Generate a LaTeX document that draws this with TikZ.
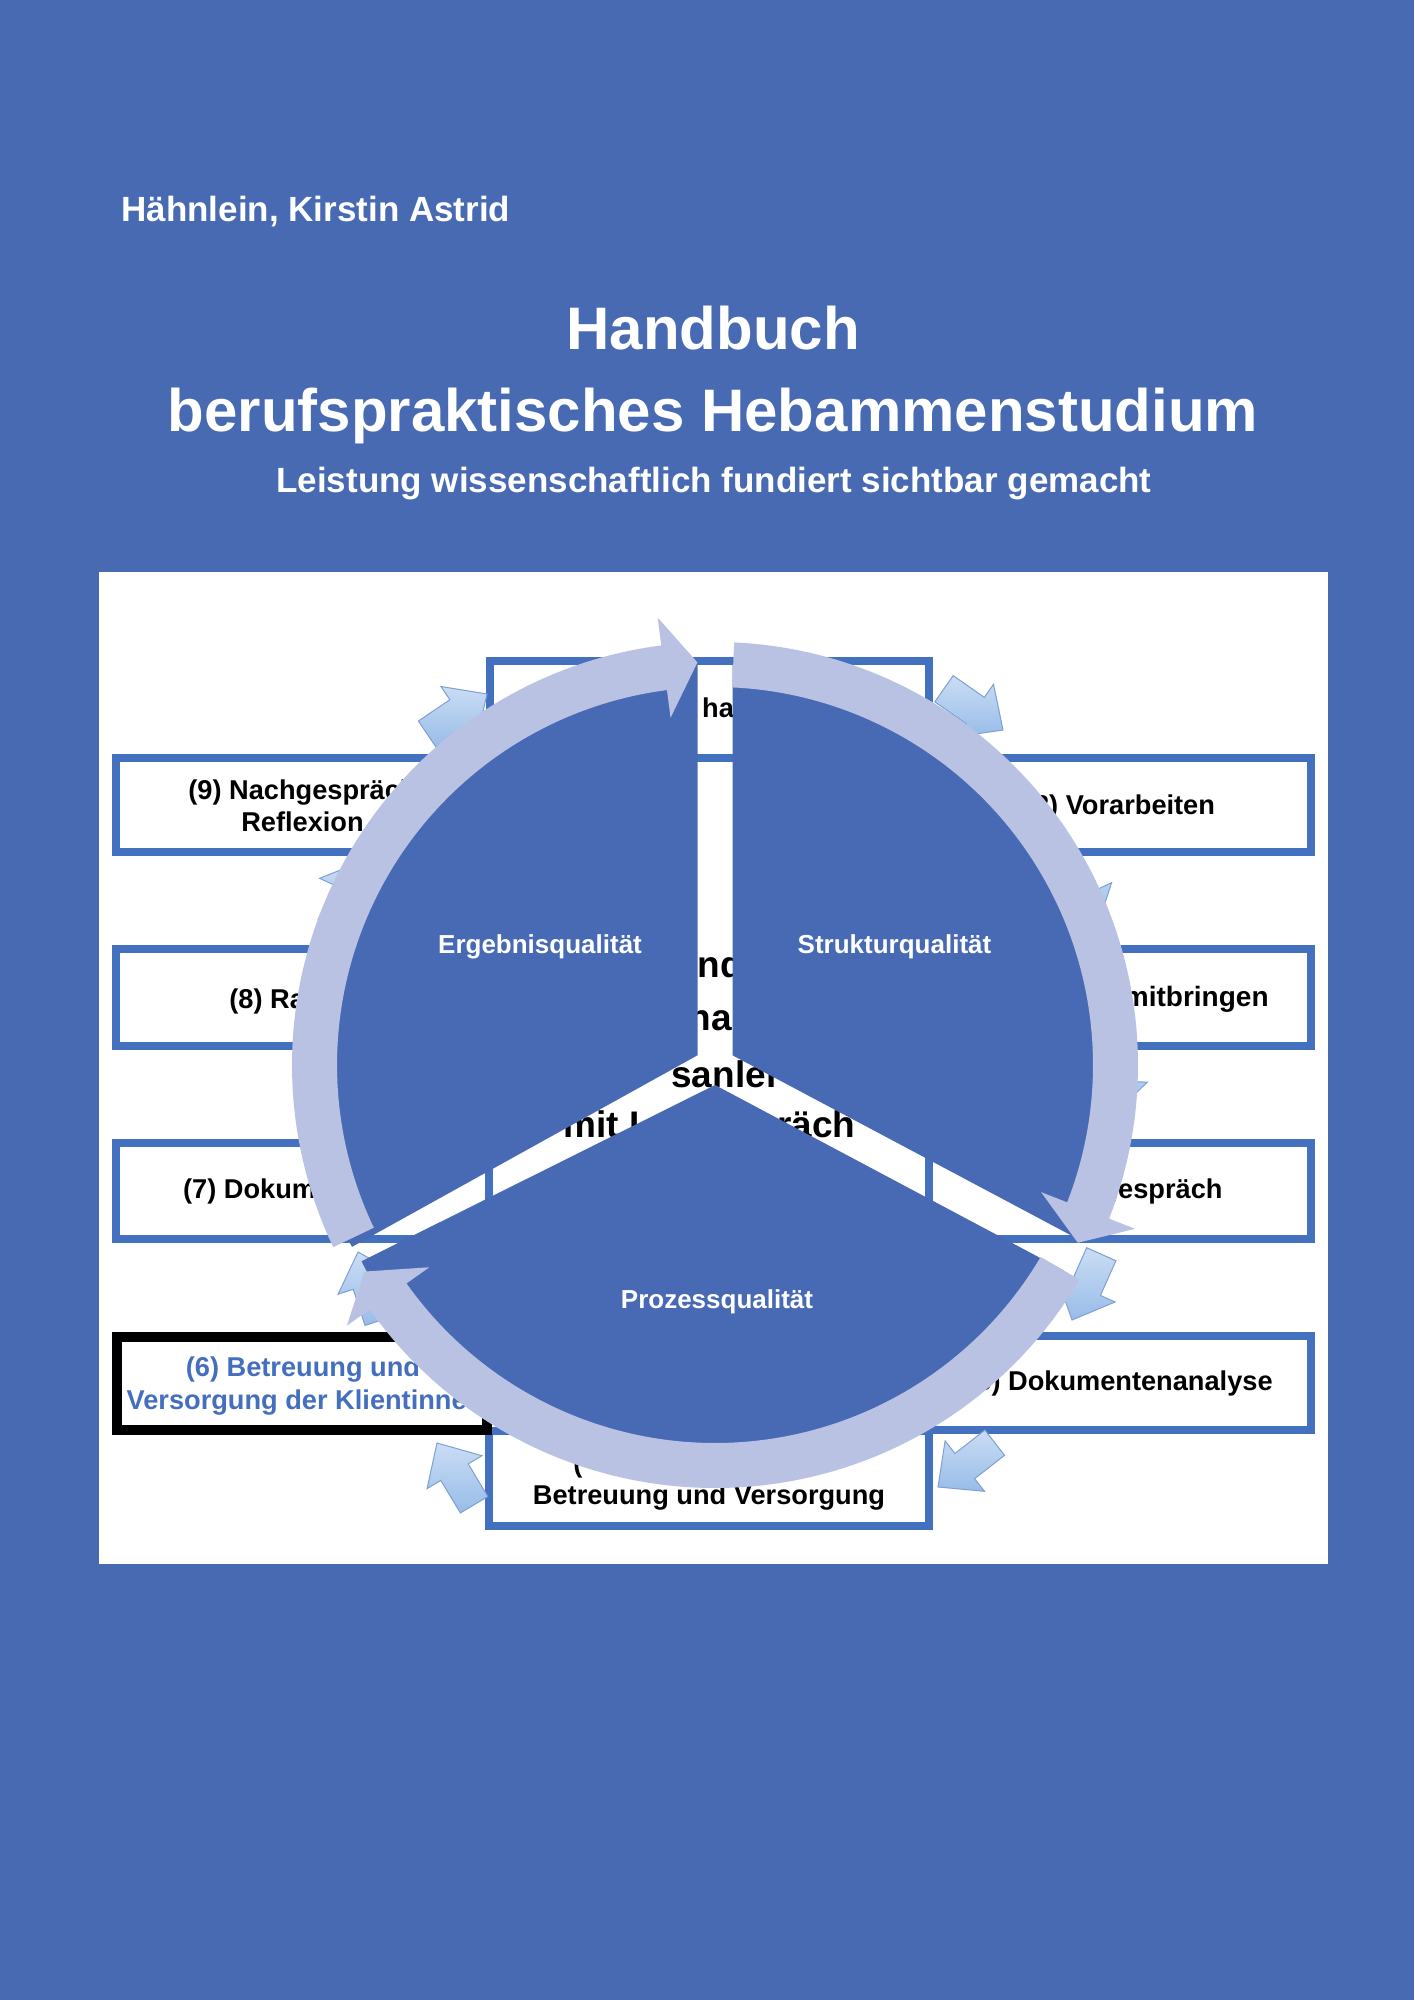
\documentclass[tikz,border=0pt]{standalone}
\usepackage{fontspec}
\setmainfont{Liberation Sans}
\definecolor{bg}{RGB}{72,106,178}
\definecolor{sect}{RGB}{72,106,180}
\definecolor{boxblue}{RGB}{68,112,192}
\definecolor{ringc}{RGB}{186,194,228}
\definecolor{sa1}{RGB}{202,221,244}
\definecolor{sa2}{RGB}{152,188,232}
\definecolor{saedge}{RGB}{125,160,212}
\definecolor{txtblue}{RGB}{68,110,190}
\newcommand{\blockarr}[3]{%
  \begin{scope}[shift={(#1,#2)},rotate=#3]
    \path[sarrow] (0,0) -- (-34,32) -- (-34,16) -- (-72,16) -- (-72,-16) -- (-34,-16) -- (-34,-32) -- cycle;
  \end{scope}}
\begin{document}
\begin{tikzpicture}[x=0.5pt,y=0.5pt,yscale=-1,
  wtxt/.style={inner sep=0pt,text=white},
  txt/.style={inner sep=0pt,font=\bfseries\fontsize{13.6}{16}\selectfont},
  ctxt/.style={inner sep=0pt,font=\bfseries\fontsize{18.5}{22}\selectfont},
  lbl/.style={inner sep=0pt,text=white,font=\bfseries\fontsize{13}{15}\selectfont},
  boxs/.style={draw=boxblue,line width=4pt,fill=white,inner sep=0pt},
  ringarc/.style={fill=ringc},
  sector/.style={fill=sect},
  sarrow/.style={draw=saedge,line width=0.5pt,top color=sa1,bottom color=sa2}]
\useasboundingbox (0,0) rectangle (1414,2000);
\fill[bg] (0,0) rectangle (1414,2000);
% titles
\node[wtxt,anchor=base west,font=\bfseries\fontsize{17.5}{21}\selectfont] (author) at (121,222) {Hähnlein, Kirstin Astrid};
\node[wtxt,anchor=base,font=\bfseries\fontsize{30}{36}\selectfont] (title1) at (713,350) {Handbuch};
\node[wtxt,anchor=base,font=\bfseries\fontsize{30}{36}\selectfont] (title2) at (713,432) {berufspraktisches Hebammenstudium};
\node[wtxt,anchor=base,font=\bfseries\fontsize{17.5}{21}\selectfont] (subtitle) at (714,493) {Leistung wissenschaftlich fundiert sichtbar gemacht};
% panel
\fill[white] (99,572) rectangle (1328,1564);
% boxes
\node[boxs,minimum width=219.5pt,minimum height=48.5pt] (b1) at (709.5,709.5) {};
\node[boxs,minimum width=186.5pt,minimum height=47pt] (b9) at (302.5,805) {};
\node[boxs,minimum width=191pt,minimum height=47pt] (b2) at (1120,805) {};
\node[boxs,minimum width=186.5pt,minimum height=48.5pt] (b8) at (302.5,997.5) {};
\node[boxs,minimum width=191pt,minimum height=48.5pt] (b3) at (1120,997.5) {};
\node[boxs,minimum width=186.5pt,minimum height=48pt] (b7) at (302.5,1191) {};
\node[boxs,minimum width=191pt,minimum height=48pt] (b4) at (1120,1191) {};
\node[boxs,minimum width=191pt,minimum height=47pt] (b5) at (1120,1383) {};
\node[boxs,minimum width=220pt,minimum height=47.5pt] (b10) at (709,1478.5) {};
\node[boxs,draw=black,line width=5pt,minimum width=185pt,minimum height=46.5pt] (b6) at (302,1383.5) {};
% box texts
\node[txt,anchor=base] (t1) at (718,717) {ha};
\node[txt,anchor=base] (t9a) at (302.5,799) {(9) Nachgespräch};
\node[txt,anchor=base] (t9b) at (302.5,831) {Reflexion};
\node[txt,anchor=base] (t2) at (1120,814) {(2) Vorarbeiten};
\node[txt,anchor=base west] (t8) at (229,1008) {(8) Ra};
\node[txt,anchor=base east,font=\bfseries\fontsize{14}{17}\selectfont] (t3) at (1269,1006) {mitbringen};
\node[txt,anchor=base] (t7) at (302.5,1198) {(7) Dokumentation};
\node[txt,anchor=base] (t4) at (1120,1198) {(4) Vorgespräch};
\node[txt,anchor=base,text=txtblue] (t6a) at (303,1376) {(6) Betreuung und};
\node[txt,anchor=base,text=txtblue] (t6b) at (305,1409) {Versorgung der Klientinnen};
\node[txt,anchor=base] (t5) at (1120,1390) {(5) Dokumentenanalyse};
\node[txt,anchor=base west] (t10p) at (573,1472) {(};
\node[txt,anchor=base] (t10) at (709,1504) {Betreuung und Versorgung};
% small block arrows
\blockarr{487}{694}{326}
\blockarr{1003}{730}{35}
\blockarr{1097}{927}{65}
\blockarr{1114}{1115}{92}
\blockarr{1072}{1320}{114}
\blockarr{938}{1487}{142}
\blockarr{437}{1443}{239}
\blockarr{358}{1252}{252}
\blockarr{363}{861}{295}
% centre text
\node[ctxt,anchor=base] (c1) at (720,977) {nd};
\node[ctxt,anchor=base] (c2) at (710,1030) {na};
\node[ctxt,anchor=base west] (c3) at (671,1087) {sanlei};
\node[ctxt,anchor=base west] (c4a) at (563,1137) {mit L};
\node[ctxt,anchor=base east] (c4b) at (856,1137) {räch};
% sectors and ring
\begin{scope}[shift={(715,1065)}]
  \fill[sector,shift={(209:20)}] (0,0) -- (151:395) arc[start angle=151,end angle=270,radius=395] -- cycle;
  \fill[sector,shift={(331:20)}] (0,0) -- (270:395) arc[start angle=270,end angle=388,radius=395] -- cycle;
  \fill[sector,shift={(90:20)}] (0,0) -- (28:395) arc[start angle=28,end angle=153.5,radius=395] -- cycle;
  \fill[ringarc] (154.5:423) arc[start angle=154.5,end angle=262.7,radius=423] -- (262.7:451) -- (267.5:403) -- (262.7:350) -- (262.7:378) arc[start angle=262.7,end angle=154.5,radius=378] -- cycle;
  \fill[ringarc] (272.6:423) arc[start angle=272.6,end angle=381.3,radius=423] -- (381.3:451) -- (386.1:404) -- (381.3:350) -- (381.3:378) arc[start angle=381.3,end angle=272.6,radius=378] -- cycle;
  \fill[ringarc] (30.5:423) arc[start angle=30.5,end angle=144.7,radius=423] -- (144.7:451) -- (149.5:407) -- (144.7:350) -- (144.7:378) arc[start angle=144.7,end angle=30.5,radius=378] -- cycle;
\end{scope}
% sector labels
\node[lbl,anchor=base] (lE) at (540,953) {Ergebnisqualität};
\node[lbl,anchor=base] (lS) at (894.5,953) {Strukturqualität};
\node[lbl,anchor=base] (lP) at (717,1308) {Prozessqualität};
\end{tikzpicture}
\end{document}
